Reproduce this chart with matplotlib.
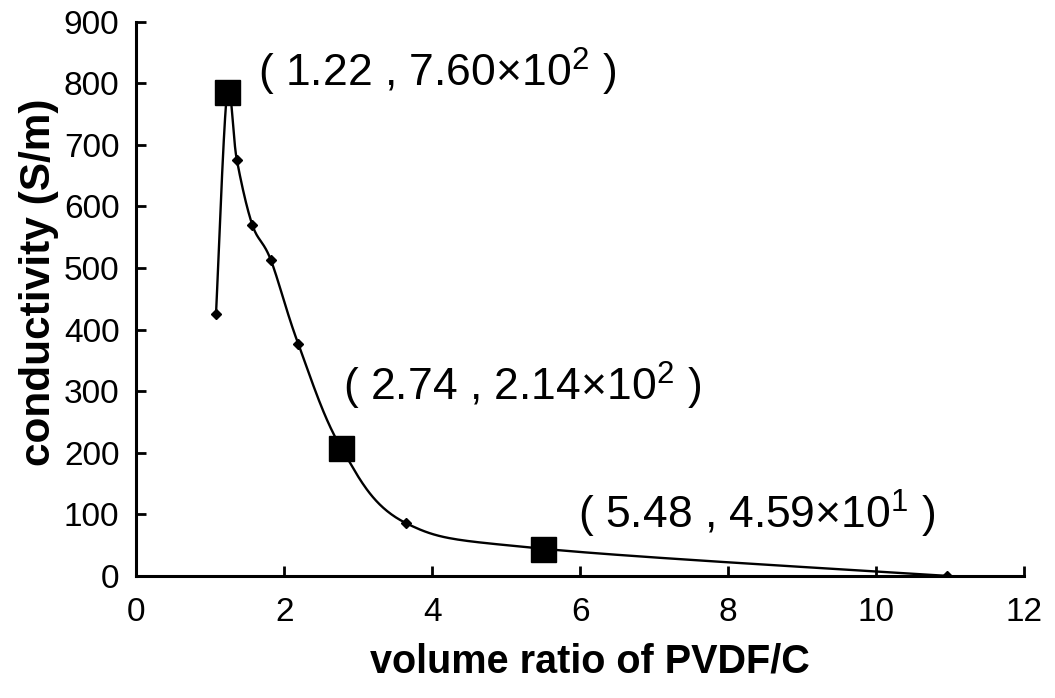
import numpy as np
import matplotlib
matplotlib.use('Agg')
import matplotlib.pyplot as plt

# measured points (volume ratio, conductivity S/m)
ratio = [1.08, 1.23, 1.36, 1.57, 1.82, 2.19, 2.77, 3.64, 5.50, 10.95]
conductivity = [426, 785, 676, 570, 513, 377, 208, 86, 44, 0]

# highlighted points with their labels
hl_ratio = [1.23, 2.77, 5.50]
hl_cond = [785, 208, 44]
hl_labels = ['( 1.22 , 7.60\u00d710$^{2}$ )',
             '( 2.74 , 2.14\u00d710$^{2}$ )',
             '( 5.48 , 4.59\u00d710$^{1}$ )']
label_pos = [(1.65, 818), (2.80, 308), (5.97, 100)]

x_ticks = [0, 2, 4, 6, 8, 10, 12]
y_ticks = [0, 100, 200, 300, 400, 500, 600, 700, 800, 900]


def smooth_curve(xs, ys, n=40):
    # Excel-like smoothed line (uniform Catmull-Rom)
    p = np.column_stack([xs, ys]).astype(float)
    p = np.vstack([p[0], p, p[-1]])
    out = []
    t = np.linspace(0, 1, n)[:, None]
    for i in range(1, len(p) - 2):
        p0, p1, p2, p3 = p[i - 1], p[i], p[i + 1], p[i + 2]
        seg = 0.5 * ((2 * p1) + (-p0 + p2) * t
                     + (2 * p0 - 5 * p1 + 4 * p2 - p3) * t ** 2
                     + (-p0 + 3 * p1 - 3 * p2 + p3) * t ** 3)
        out.append(seg)
    out = np.vstack(out)
    return out[:, 0], out[:, 1]


plt.rcParams['font.family'] = ['Liberation Sans', 'DejaVu Sans']
plt.rcParams['mathtext.fontset'] = 'custom'
plt.rcParams['mathtext.rm'] = 'Liberation Sans'
plt.rcParams['mathtext.it'] = 'Liberation Sans'
plt.rcParams['mathtext.bf'] = 'Liberation Sans:bold'
plt.rcParams['mathtext.default'] = 'rm'

fig = plt.figure(figsize=(10.55, 6.98), dpi=100)
ax = fig.add_axes([0.129, 0.175, 0.842, 0.794])

sx, sy = smooth_curve(ratio, conductivity)
ax.plot(sx, sy, color='black', lw=1.7, zorder=2)
ax.plot(ratio, conductivity, ls='none', marker='D', ms=5, color='black', zorder=3)
ax.plot(hl_ratio, hl_cond, ls='none', marker='s', ms=18, color='black', zorder=4)

for lab, (lx, ly) in zip(hl_labels, label_pos):
    ax.text(lx, ly, lab, fontsize=32, ha='left', va='center')

ax.set_xlim(0, 12)
ax.set_ylim(0, 900)
ax.set_xticks(x_ticks)
ax.set_yticks(y_ticks)
ax.spines['top'].set_visible(False)
ax.spines['right'].set_visible(False)
ax.spines['left'].set_linewidth(2.2)
ax.spines['bottom'].set_linewidth(2.2)
ax.tick_params(direction='in', length=7, width=2, labelsize=24)
ax.tick_params(axis='x', pad=15)
ax.tick_params(axis='y', pad=12)

ax.set_xlabel('volume ratio of PVDF/C', fontsize=28.5, fontweight='bold', va='center')
ax.set_ylabel('conductivity (S/m)', fontsize=30.5, fontweight='bold')
ax.xaxis.set_label_coords(0.511, -0.155)
ax.yaxis.set_label_coords(-0.087, 0.53)

fig.savefig('out.png', dpi=100)
